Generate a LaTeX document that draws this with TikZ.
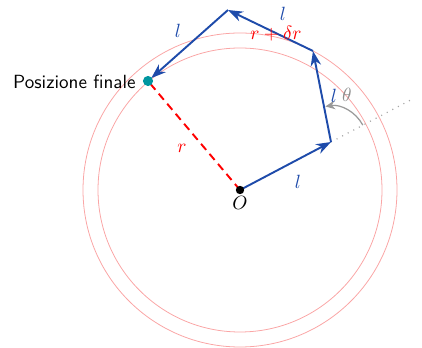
\documentclass[tikz,border=0pt]{standalone}
\usetikzlibrary{arrows.meta,calc}
\definecolor{stepblue}{RGB}{30,75,170}
\definecolor{dotcyan}{RGB}{0,150,160}
\definecolor{circred}{RGB}{250,165,165}
\begin{document}
\begin{tikzpicture}[x=0.5714pt,y=-0.5714pt,
  every node/.style={font=\fontsize{10.9pt}{13pt}\selectfont},
  stepline/.style={draw=stepblue, line width=1.1pt, -{Stealth[length=8.5pt,width=6pt]}},
  steplab/.style={text=stepblue},
  redlab/.style={text=red},
  ring/.style={draw=circred, line width=0.45pt},
  radline/.style={draw=red, line width=1.1pt, dash pattern=on 4.5pt off 3pt},
  anglearrow/.style={draw=gray!80, line width=0.7pt, -{Stealth[length=5.5pt,width=5pt]}},
  guide/.style={draw=gray!70, line width=0.7pt, dash pattern=on 0.6pt off 3pt}]
\useasboundingbox (0,0) rectangle (422,348);
\coordinate (O) at (240,190);
\coordinate (A) at (331,142);
\coordinate (B) at (313,51);
\coordinate (C) at (228,10);
\coordinate (F) at (148,81);
\draw[ring] (O) circle[radius=142];
\draw[ring] (O) circle[radius=157];
\draw[guide] (A) -- ($(O)!1.9!(A)$) coordinate (G);
\draw[radline] (O) -- (F);
\draw[stepline] (O) -- (A);
\draw[stepline] (A) -- (B);
\draw[stepline] (B) -- (C);
\draw[stepline, shorten >=2.5pt] (C) -- (F);
\draw[anglearrow] ($(A)+(-28:36)$) arc[start angle=-28, end angle=-99, radius=36];
\node[circle, fill=dotcyan, inner sep=0pt, minimum size=5.8pt] (fdot) at (F) {};
\node[circle, fill=black, inner sep=0pt, minimum size=4.8pt] (odot) at (O) {};
\node[anchor=east, font=\fontsize{10.9pt}{13pt}\selectfont\sffamily, inner sep=0pt] (fin) at (136,82) {Posizione finale};
\node[anchor=north, inner sep=0pt] (olab) at (240,196) {$O$};
\node[steplab] (l1) at (298,182) {$l$};
\node[steplab] (l2) at (334,96) {$l$};
\node[steplab] (l3) at (283,14) {$l$};
\node[steplab] (l4) at (178,31) {$l$};
\node[redlab] (rd) at (276,34) {$r+\delta r$};
\node[redlab] (rr) at (182,148) {$r$};
\node[text=gray!90] (th) at (347,95) {$\theta$};
\end{tikzpicture}
\end{document}
